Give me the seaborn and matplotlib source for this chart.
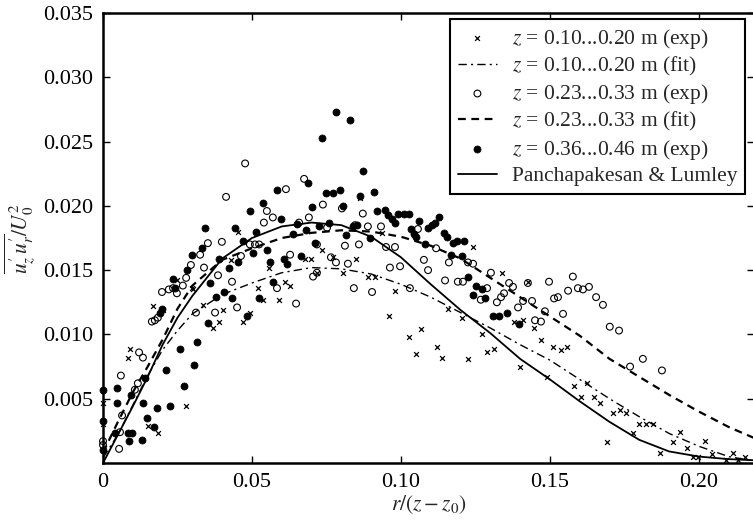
import matplotlib
matplotlib.use("Agg")
import matplotlib.pyplot as plt
import seaborn as sns
import pandas as pd
import numpy as np

# ---------------- data ----------------
# z = 0.10...0.20 m (exp)  (crosses)
exp1_x = [0.000, 0.000, 0.0091, 0.0084, 0.0168, 0.0151, 0.0185, 0.0279, 0.0201, 0.0299,
          0.0336, 0.0369, 0.0389, 0.0403, 0.0248, 0.0302, 0.0430, 0.0453, 0.0470, 0.0493,
          0.0520, 0.0537, 0.0557, 0.0591, 0.0611, 0.0628, 0.0678, 0.0698, 0.0718, 0.0735,
          0.0772, 0.0849, 0.0805, 0.0889, 0.0913, 0.0980, 0.0960, 0.0862, 0.0936, 0.1027,
          0.1067, 0.1050, 0.1121, 0.1138, 0.1158, 0.1205, 0.1272, 0.1312, 0.1242, 0.1339,
          0.1426, 0.1410, 0.1446, 0.1470, 0.1510, 0.1537, 0.1557, 0.1225, 0.1289, 0.1379,
          0.1399, 0.1490, 0.1581, 0.1604, 0.1624, 0.1648, 0.1668, 0.1691, 0.1711, 0.1735,
          0.1755, 0.1779, 0.1799, 0.1822, 0.1846, 0.1869, 0.1913, 0.1936, 0.1960, 0.1980,
          0.1997, 0.2020, 0.2044, 0.2091, 0.2114, 0.2131, 0.2155]
exp1_y = [0.0047, 0.0030, 0.0089, 0.0082, 0.0122, 0.0029, 0.0023, 0.0044, 0.0119, 0.0136,
          0.0123, 0.0105, 0.0110, 0.0119, 0.0142, 0.0135, 0.0158, 0.0180, 0.0110, 0.0117,
          0.0136, 0.0127, 0.0152, 0.0127, 0.0141, 0.0138, 0.0159, 0.0159, 0.0148, 0.0166,
          0.0160, 0.0159, 0.0148, 0.0145, 0.0145, 0.0134, 0.0114, 0.0206, 0.0179, 0.0098,
          0.0104, 0.0085, 0.0090, 0.0082, 0.0120, 0.0113, 0.0100, 0.0089, 0.0168, 0.0148,
          0.0141, 0.0111, 0.0105, 0.0096, 0.0090, 0.0088, 0.0090, 0.0081, 0.0086, 0.0110,
          0.0075, 0.0067, 0.0060, 0.0051, 0.0062, 0.0051, 0.0047, 0.0016, 0.0039, 0.0041,
          0.0039, 0.0023, 0.0030, 0.0030, 0.0030, 0.0008, 0.0016, 0.0024, 0.0012, 0.0005,
          0.0005, 0.0017, 0.0007, 0.0002, 0.0008, 0.0002, 0.0005]

# z = 0.23...0.33 m (exp)  (open circles)
exp2_x = [0.000, 0.000, 0.0054, 0.0057, 0.0064, 0.0060, 0.0107, 0.0117, 0.0121, 0.0134,
          0.0164, 0.0174, 0.0184, 0.0198, 0.0221, 0.0235, 0.0248, 0.0268, 0.0279, 0.0295,
          0.0312, 0.0326, 0.0339, 0.0352, 0.0376, 0.0386, 0.0399, 0.0413, 0.0433, 0.0450,
          0.0463, 0.0477, 0.0493, 0.0510, 0.0524, 0.0540, 0.0550, 0.0570, 0.0584, 0.0614,
          0.0628, 0.0648, 0.0658, 0.0675, 0.0691, 0.0705, 0.0718, 0.0738, 0.0802, 0.0872,
          0.0752, 0.0846, 0.0889, 0.0933, 0.1057, 0.0812, 0.0859, 0.0718, 0.0950, 0.0980,
          0.1118, 0.0765, 0.0782, 0.0822, 0.0842, 0.0903, 0.0963, 0.0997, 0.1030, 0.1077,
          0.1091, 0.1148, 0.1161, 0.1191, 0.1208, 0.1225, 0.1242, 0.1289, 0.1302, 0.1322,
          0.1336, 0.1346, 0.1363, 0.1376, 0.1393, 0.1410, 0.1426, 0.1450, 0.1470, 0.1483,
          0.1497, 0.1514, 0.1527, 0.1544, 0.1561, 0.1577, 0.1594, 0.1611, 0.1631, 0.1655,
          0.1678, 0.1701, 0.1732, 0.1769, 0.1812, 0.1876, 0.1268, 0.1440]
exp2_y = [0.0014, 0.0017, 0.0011, 0.0024, 0.0037, 0.0068, 0.0057, 0.0062, 0.0086, 0.0082,
          0.0110, 0.0111, 0.0113, 0.0133, 0.0135, 0.0136, 0.0132, 0.0138, 0.0144, 0.0154,
          0.0117, 0.0162, 0.0152, 0.0171, 0.0117, 0.0146, 0.0172, 0.0207, 0.0141, 0.0121,
          0.0161, 0.0233, 0.0170, 0.0170, 0.0170, 0.0187, 0.0196, 0.0191, 0.0136, 0.0213,
          0.0162, 0.0124, 0.0187, 0.0221, 0.0191, 0.0145, 0.0148, 0.0201, 0.0198, 0.0194,
          0.0183, 0.0185, 0.0184, 0.0184, 0.0182, 0.0169, 0.0170, 0.0170, 0.0168, 0.0168,
          0.0167, 0.0160, 0.0156, 0.0155, 0.0136, 0.0133, 0.0152, 0.0153, 0.0136, 0.0158,
          0.0150, 0.0142, 0.0156, 0.0141, 0.0141, 0.0156, 0.0155, 0.0136, 0.0148, 0.0125,
          0.0129, 0.0132, 0.0140, 0.0137, 0.0121, 0.0126, 0.0140, 0.0111, 0.0110, 0.0118,
          0.0141, 0.0128, 0.0129, 0.0116, 0.0134, 0.0145, 0.0136, 0.0135, 0.0137, 0.0129,
          0.0123, 0.0106, 0.0103, 0.0075, 0.0081, 0.0072, 0.0127, 0.0126]

# z = 0.36...0.46 m (exp)  (filled dots)
exp3_x = [0.000, 0.000, 0.000, 0.0046, 0.0046, 0.0040, 0.0084, 0.0097, 0.0087, 0.0131,
          0.0094, 0.0141, 0.0134, 0.0181, 0.0148, 0.0171, 0.0225, 0.0211, 0.0258, 0.0272,
          0.0305, 0.0315, 0.0352, 0.0379, 0.0359, 0.0198, 0.0191, 0.0242, 0.0235, 0.0282,
          0.0299, 0.0332, 0.0342, 0.0389, 0.0406, 0.0433, 0.0423, 0.0443, 0.0453, 0.0470,
          0.0493, 0.0503, 0.0513, 0.0537, 0.0524, 0.0483, 0.0550, 0.0560, 0.0571, 0.0584,
          0.0597, 0.0607, 0.0617, 0.0664, 0.0681, 0.0688, 0.0701, 0.0711, 0.0638, 0.0782,
          0.0829, 0.0735, 0.0873, 0.0748, 0.0772, 0.0795, 0.0862, 0.0909, 0.0805, 0.0919,
          0.0946, 0.0956, 0.0970, 0.0980, 0.0990, 0.1010, 0.1027, 0.1060, 0.1034, 0.1044,
          0.1050, 0.1091, 0.1104, 0.1114, 0.1128, 0.1144, 0.1155, 0.0651, 0.0725, 0.0758,
          0.0839, 0.0852, 0.0815, 0.0896, 0.1081, 0.1175, 0.1188, 0.1211, 0.1168, 0.1205,
          0.1225, 0.1252, 0.1272, 0.1242, 0.1309, 0.1329, 0.1356, 0.1396, 0.1282]
exp3_y = [0.0057, 0.0033, 0.0010, 0.0058, 0.0047, 0.0023, 0.0023, 0.0023, 0.0017, 0.0018,
          0.0053, 0.0066, 0.0047, 0.0043, 0.0035, 0.0028, 0.0044, 0.0072, 0.0089, 0.0060,
          0.0076, 0.0094, 0.0109, 0.0129, 0.0140, 0.0120, 0.0117, 0.0136, 0.0143, 0.0150,
          0.0162, 0.0167, 0.0183, 0.0159, 0.0133, 0.0128, 0.0152, 0.0183, 0.0156, 0.0173,
          0.0196, 0.0163, 0.0180, 0.0202, 0.0128, 0.0114, 0.0166, 0.0156, 0.0141, 0.0212,
          0.0190, 0.0159, 0.0155, 0.0161, 0.0181, 0.0218, 0.0199, 0.0171, 0.0178, 0.0273,
          0.0267, 0.0253, 0.0227, 0.0210, 0.0210, 0.0212, 0.0208, 0.0211, 0.0200, 0.0196,
          0.0197, 0.0193, 0.0190, 0.0187, 0.0194, 0.0194, 0.0194, 0.0188, 0.0182, 0.0178,
          0.0176, 0.0183, 0.0185, 0.0187, 0.0191, 0.0179, 0.0176, 0.0186, 0.0184, 0.0187,
          0.0184, 0.0185, 0.0177, 0.0175, 0.0170, 0.0171, 0.0173, 0.0173, 0.0162, 0.0161,
          0.0145, 0.0138, 0.0135, 0.0131, 0.0114, 0.0114, 0.0117, 0.0108, 0.0128]

# fitted / model curves
curve_x = [0.000, 0.005, 0.010, 0.015, 0.020, 0.025, 0.030, 0.040, 0.050, 0.060,
           0.070, 0.080, 0.090, 0.100, 0.110, 0.120, 0.130, 0.140, 0.150, 0.160,
           0.170, 0.180, 0.190, 0.200, 0.210, 0.220]
fit1_y = [0.0004, 0.0022, 0.0045, 0.0068, 0.0088, 0.0103, 0.0116, 0.0131, 0.0140, 0.0148,
          0.0152, 0.0151, 0.0147, 0.0139, 0.0129, 0.0117, 0.0105, 0.0092, 0.0080, 0.0065,
          0.0050, 0.0036, 0.0023, 0.0013, 0.0005, 0.0001]
fit2_y = [0.0008, 0.0032, 0.0055, 0.0075, 0.0096, 0.0120, 0.0138, 0.0158, 0.0167, 0.0175,
          0.0179, 0.0181, 0.0180, 0.0176, 0.0169, 0.0159, 0.0144, 0.0129, 0.0114, 0.0099,
          0.0081, 0.0067, 0.0053, 0.0040, 0.0028, 0.0018]
pl_y = [0.0000, 0.0022, 0.0044, 0.0067, 0.0092, 0.0113, 0.0130, 0.0159, 0.0175, 0.0184,
        0.0187, 0.0185, 0.0176, 0.0160, 0.0139, 0.0119, 0.0101, 0.0081, 0.0065, 0.0048,
        0.0032, 0.0018, 0.0009, 0.0005, 0.0003, 0.0002]

x_ticks = [0, 0.05, 0.10, 0.15, 0.20]
x_ticklabels = ["0", "0.05", "0.10", "0.15", "0.20"]
y_ticks = [0.005, 0.010, 0.015, 0.020, 0.025, 0.030, 0.035]
y_ticklabels = ["0.005", "0.010", "0.015", "0.020", "0.025", "0.030", "0.035"]

labels = [r"$z$ = 0.10...0.20 m (exp)", r"$z$ = 0.10...0.20 m (fit)",
          r"$z$ = 0.23...0.33 m (exp)", r"$z$ = 0.23...0.33 m (fit)",
          r"$z$ = 0.36...0.46 m (exp)", "Panchapakesan & Lumley"]

# ---------------- style ----------------
sns.set_theme(style="ticks")
plt.rcParams["font.family"] = ["Liberation Serif", "DejaVu Serif"]
plt.rcParams["mathtext.fontset"] = "stix"
plt.rcParams["axes.unicode_minus"] = True

fig = plt.figure(figsize=(7.53, 5.27), dpi=100)
ax = fig.add_axes([103 / 753, 1 - 463 / 527, (754 - 103) / 753, (463 - 13) / 527])

d1 = pd.DataFrame({"x": exp1_x, "y": exp1_y})
d2 = pd.DataFrame({"x": exp2_x, "y": exp2_y})
d3 = pd.DataFrame({"x": exp3_x, "y": exp3_y})
dc = pd.DataFrame({"x": curve_x, "f1": fit1_y, "f2": fit2_y, "pl": pl_y})

sns.scatterplot(data=d1, x="x", y="y", ax=ax, marker="x", s=12, color="black",
                linewidth=0.9, label=labels[0], clip_on=False, zorder=3)
sns.lineplot(data=dc, x="x", y="f1", ax=ax, color="black", linewidth=1.0,
             linestyle=(0, (6, 3, 1.5, 3)), label=labels[1], zorder=4)
sns.scatterplot(data=d2, x="x", y="y", ax=ax, marker="o", s=24, facecolor="none",
                edgecolor="black", linewidth=0.8, label=labels[2], clip_on=False, zorder=3)
sns.lineplot(data=dc, x="x", y="f2", ax=ax, color="black", linewidth=1.6,
             linestyle=(0, (3.5, 2.5)), label=labels[3], zorder=4)
sns.scatterplot(data=d3, x="x", y="y", ax=ax, marker="o", s=26, color="black",
                edgecolor="black", linewidth=0.5, label=labels[4], clip_on=False, zorder=3)
sns.lineplot(data=dc, x="x", y="pl", ax=ax, color="black", linewidth=1.3,
             linestyle="-", label=labels[5], zorder=4)

ax.set_xlim(0, 0.2185)
ax.set_ylim(0, 0.035)
ax.set_xticks(x_ticks)
ax.set_xticklabels(x_ticklabels)
ax.set_yticks(y_ticks)
ax.set_yticklabels(y_ticklabels)
ax.tick_params(direction="in", length=5, width=1.0, labelsize=16, pad=7,
               top=True, right=True, colors="black")

for sp in ax.spines.values():
    sp.set_visible(True)
    sp.set_linewidth(1.8)
    sp.set_color("black")

ax.set_xlabel(r"$r/(z-z_0)$", fontsize=15.5, labelpad=1)
ax.set_ylabel(r"$\overline{u_z^{\prime}\,u_r^{\prime}}/U_0^{2}$", fontsize=15.5, labelpad=4)

leg = ax.legend(loc="upper right", bbox_to_anchor=(0.986, 0.9867), borderaxespad=0,
                fontsize=15.5, frameon=True, fancybox=False, framealpha=1,
                edgecolor="black", handlelength=1.8, handletextpad=0.7,
                labelspacing=0.2, borderpad=0.35)
leg.get_frame().set_linewidth(1.5)

fig.savefig("out.png", dpi=100)
